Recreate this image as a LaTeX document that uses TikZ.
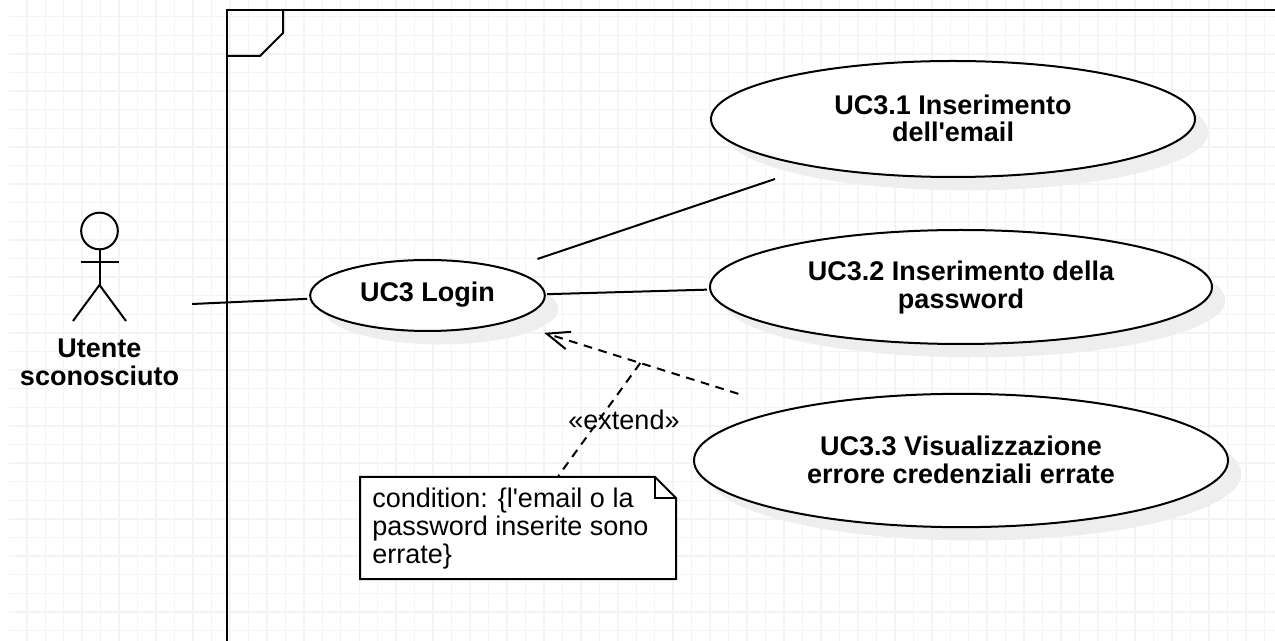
\documentclass[tikz,border=0pt]{standalone}
\usepackage{fontspec}
\setmainfont{Liberation Sans}[Ligatures=TeXOff]
\usetikzlibrary{shapes.geometric,shadows,arrows.meta,calc}
\newcommand{\uctext}[2]{\smash{\raisebox{#1}{\begin{tabular}[c]{@{}c@{}}#2\end{tabular}}}}
\definecolor{gridgray}{HTML}{F4F4F4}
\definecolor{shadowgray}{HTML}{EEEEEE}
\tikzset{
  x=0.75pt,y=-0.75pt,
  gridline/.style={draw=gridgray,line width=1.1pt},
  umlline/.style={draw=black,line width=1.5pt},
  usecase/.style={shape=ellipse,draw=black,line width=1.5pt,fill=white,inner sep=0pt,
    font=\fontsize{20.25}{20.8}\selectfont\bfseries,
    drop shadow={shadow xshift=10pt,shadow yshift=-10pt,fill=shadowgray,opacity=1}},
  actorlabel/.style={inner sep=0pt,align=center,font=\fontsize{20.25}{20.8}\selectfont\bfseries},
  plain/.style={inner sep=0pt,font=\fontsize{20.25}{20.8}\selectfont},
  dashline/.style={umlline,dash pattern=on 6.5pt off 5pt},
  extendarrow/.style={dashline,-{Straight Barb[length=17pt,width=13.5pt,line width=1.5pt]}},
}
\begin{document}
\begin{tikzpicture}
\useasboundingbox (0,0) rectangle (1275,641);
\fill[white] (0,0) rectangle (1275,641);
% grid
\foreach \k in {1,...,68} {\draw[gridline] ({8.3+18.47*\k},0) -- ({8.3+18.47*\k},641);}
\foreach \k in {1,...,34} {\draw[gridline] (9,{-1.9+18.6*\k}) -- (1275,{-1.9+18.6*\k});}
% frame
\draw[umlline] (227,641) -- (227,10) -- (1275,10);
\draw[umlline] (283,10) -- (283,33) -- (260,56) -- (227,56);
% actor
\node[draw=black,line width=1.5pt,circle,minimum size=27.5pt,inner sep=0pt,fill=none] (head) at (99.5,231) {};
\coordinate (hip) at (99.5,285);
\draw[umlline] (head.south) -- (hip);
\draw[umlline] (80.5,262) -- (118.5,262);
\draw[umlline] (73,321) -- (hip) -- (126,321);
\node[actorlabel] (actor) at (99.5,362) {Utente\\sconosciuto};
% use cases
\node[usecase,minimum width=363pt,minimum height=87pt] (uc31) at (953,119) {\uctext{-7.75pt}{UC3.1 Inserimento\\dell'email}};
\node[usecase,minimum width=376.5pt,minimum height=85.5pt] (uc32) at (961,287) {\uctext{-6.85pt}{UC3.2 Inserimento della\\password}};
\node[usecase,minimum width=400.5pt,minimum height=100pt] (uc33) at (961,460.5) {\uctext{-7.9pt}{UC3.3 Visualizzazione\\errore credenziali errate}};
\node[usecase,minimum width=176pt,minimum height=53.25pt] (login) at (427.5,295.5) {\uctext{-5.5pt}{UC3 Login}};
% connectors
\draw[umlline] ([shift={(69.4pt,-54.75pt)}]head.center) -- ([shift={(-1.5pt,-2.5pt)}]login.west);
\draw[umlline] ([shift={(82.5pt,27.4pt)}]login.center) -- ([shift={(-133.5pt,-45pt)}]uc31.center);
\draw[umlline] ([shift={(1pt,1pt)}]login.east) -- ([shift={(-1.5pt,-2pt)}]uc32.west);
\draw[extendarrow] ([shift={(-167pt,50pt)}]uc33.center) -- ([shift={(87.5pt,-28pt)}]login.center) coordinate[pos=0.505] (mid);
% note
\draw[umlline,fill=white] (360,477) -- (655,477) -- (676,498) -- (676,579) -- (360,579) -- cycle;
\draw[umlline] (655,477) -- (655,498) -- (676,498);
\node[plain,anchor=north west,align=left] (notetext) at (372,488) {condition: \{l'email o la\\password inserite sono\\errate\}};
\draw[dashline] (mid) -- ([shift={(36pt,9pt)}]notetext.north);
\node[plain] (extend) at (624,420) {«extend»};
\end{tikzpicture}
\end{document}
